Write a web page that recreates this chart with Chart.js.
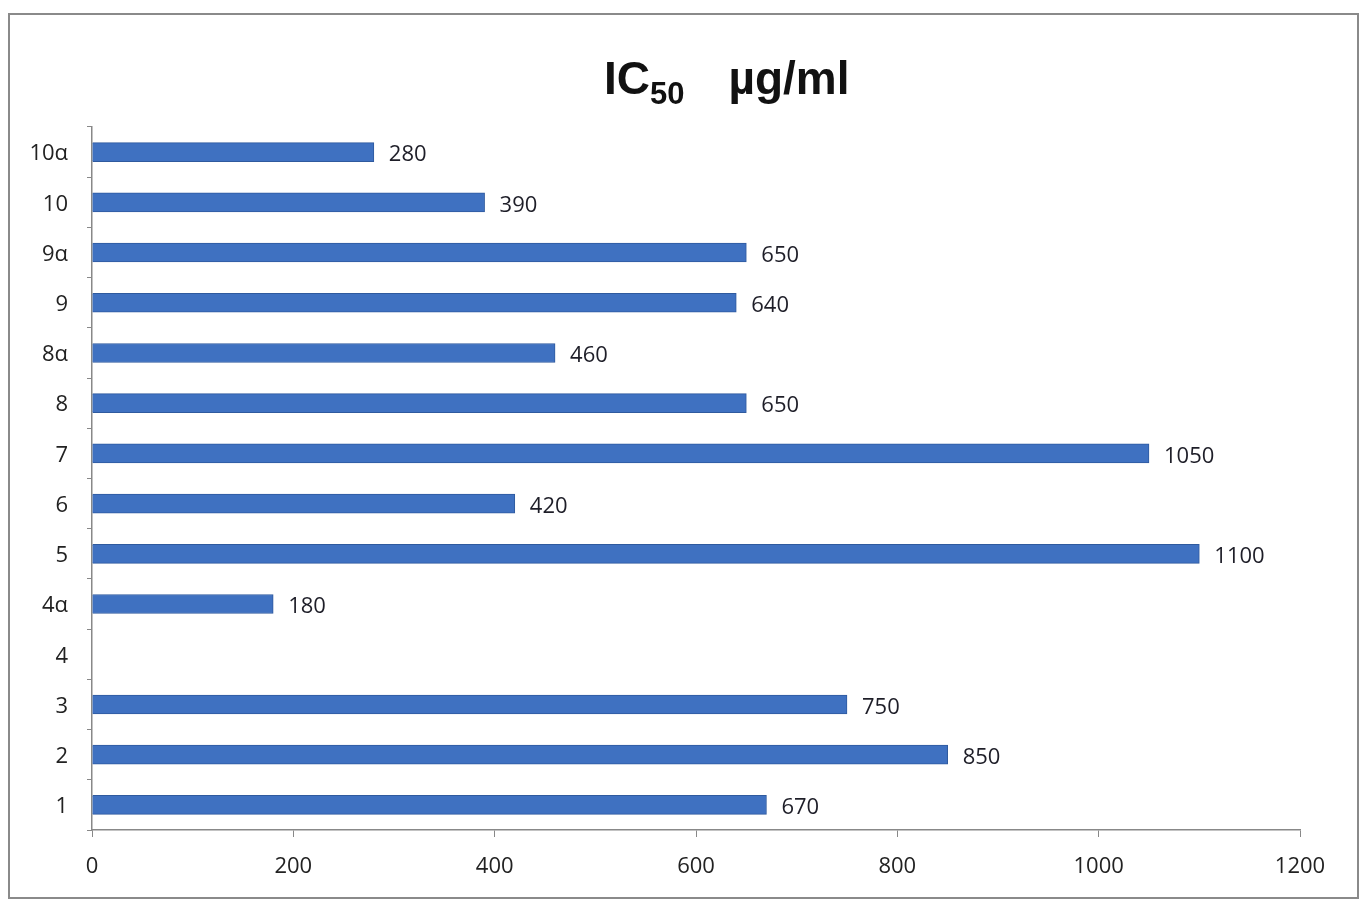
<!DOCTYPE html>
<html>
<head>
<meta charset="utf-8">
<script src="https://cdn.jsdelivr.net/npm/chart.js@4.4.1/dist/chart.umd.min.js"></script>
<style>
  html, body { margin: 0; padding: 0; background: #fff; }
  #wrap { position: relative; width: 1362px; height: 899px; }
  #frame { position: absolute; left: 8px; top: 13px; width: 1347px; height: 882px; border: 2px solid #8a8a8a; box-sizing: content-box; pointer-events: none; }
  #title { position: absolute; left: 604px; top: 51px; white-space: nowrap; font-family: "Liberation Sans", Arial, sans-serif; font-weight: bold; font-size: 46px; color: #111; }
  #title sub { font-size: 31px; vertical-align: -10px; margin-right: 44px; }
  canvas { position: absolute; left: 0; top: 0; }
</style>
</head>
<body>
<div id="wrap">
  <canvas id="c" width="1362" height="899"></canvas>
  <div id="title">IC<sub>50</sub>µg/ml</div>
  <div id="frame"></div>
</div>
<script>
// categories from bottom to top
const compounds = ['1', '2', '3', '4', '4α', '5', '6', '7', '8', '8α', '9', '9α', '10', '10α'];
const ic50 = [670, 850, 750, null, 180, 1100, 420, 1050, 650, 460, 640, 650, 390, 280];
const xTicks = [0, 200, 400, 600, 800, 1000, 1200];

const fontFamily = '"Open Sans", "Liberation Sans", sans-serif';

// value labels right of each bar
const valueLabels = {
  id: 'valueLabels',
  afterDatasetsDraw(chart) {
    const ctx = chart.ctx;
    const meta = chart.getDatasetMeta(0);
    ctx.save();
    ctx.font = '22px ' + fontFamily;
    ctx.fillStyle = '#1e1e28';
    ctx.textAlign = 'left';
    ctx.textBaseline = 'middle';
    meta.data.forEach((bar, i) => {
      if (ic50[i] == null) return;
      ctx.fillText(String(ic50[i]), bar.x + 15, bar.y + 3);
    });
    ctx.restore();
  }
};

new Chart(document.getElementById('c'), {
  type: 'bar',
  data: {
    labels: compounds,
    datasets: [{
      data: ic50,
      backgroundColor: '#3f71c1',
      borderColor: '#2f5a9e',
      borderWidth: 1,
      barThickness: 19
    }]
  },
  options: {
    indexAxis: 'y',
    responsive: false,
    animation: false,
    layout: { padding: { left: 10, right: 62, top: 127, bottom: 0 } },
    plugins: { legend: { display: false }, tooltip: { enabled: false } },
    scales: {
      x: {
        type: 'linear',
        min: 0, max: 1200,
        afterBuildTicks: s => { s.ticks = xTicks.map(v => ({ value: v })); },
        afterFit: s => { s.height = 69; },
        grid: { drawOnChartArea: false, tickLength: 7, color: '#888' },
        border: { color: '#888', width: 1.5 },
        ticks: { padding: 17, color: '#222', font: { size: 22, family: fontFamily }, callback: v => String(v) }
      },
      y: {
        reverse: true,
        afterFit: s => { s.width = 82; },
        grid: { drawOnChartArea: false, tickLength: 5, offset: true, color: '#888' },
        border: { color: '#888', width: 1.5 },
        ticks: { padding: 19, labelOffset: 2, color: '#222', font: { size: 22, family: fontFamily } }
      }
    }
  },
  plugins: [valueLabels]
});
</script>
</body>
</html>
